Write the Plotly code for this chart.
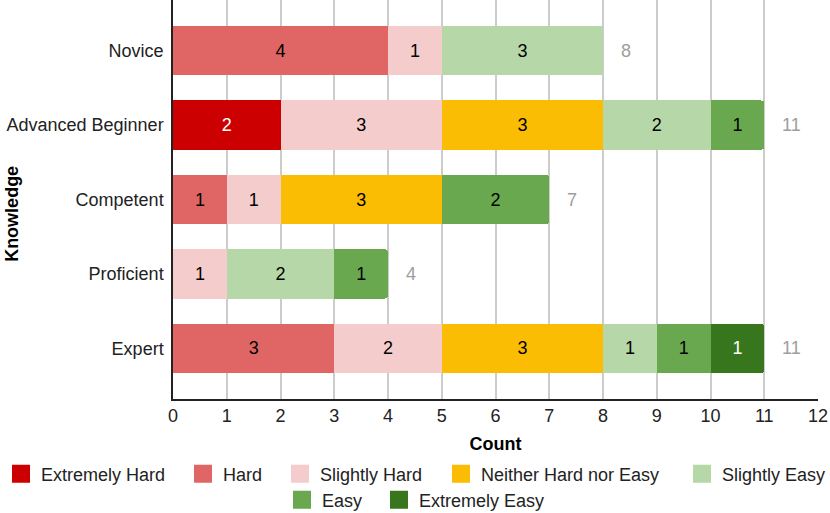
import plotly.graph_objects as go

# ----------------------------------------
# Data
# ----------------------------------------
levels = ['Novice', 'Advanced Beginner', 'Competent', 'Proficient', 'Expert']

difficulty = ['Extremely Hard', 'Hard', 'Slightly Hard', 'Neither Hard nor Easy',
              'Slightly Easy', 'Easy', 'Extremely Easy']

extremely_hard = [0, 2, 0, 0, 0]
hard = [4, 0, 1, 0, 3]
slightly_hard = [1, 3, 1, 1, 2]
neither = [0, 3, 3, 0, 3]
slightly_easy = [3, 2, 0, 2, 1]
easy = [0, 1, 2, 1, 1]
extremely_easy = [0, 0, 0, 0, 1]

series = [extremely_hard, hard, slightly_hard, neither, slightly_easy, easy, extremely_easy]
colors = ['#cc0000', '#e06666', '#f4cccc', '#fbbc04', '#b6d7a8', '#6aa84f', '#38761d']
text_colors = ['white', 'black', 'black', 'black', 'black', 'black', 'white']

totals = [sum(vals) for vals in zip(*series)]

FONT = 'Liberation Sans, Arial, sans-serif'
FS = 18

# legend layout: one legend box per entry so the two centred rows keep
# the same spacing as the original (left edge in px, row)
PLOT_L, PLOT_W = 173, 645
legend_left_px = [1, 183, 280, 441, 682, 282, 379]
legend_row_y = [-0.188] * 5 + [-0.253] * 2

fig = go.Figure()

for name, vals, col, tcol in zip(difficulty, series, colors, text_colors):
    fig.add_trace(go.Bar(
        y=levels,
        x=vals,
        orientation='h',
        name=name,
        marker=dict(color=col, line=dict(width=0)),
        text=[str(v) if v else '' for v in vals],
        textposition='inside',
        insidetextanchor='middle',
        textangle=0,
        textfont=dict(color=tcol, size=FS, family=FONT),
        showlegend=False,
        hoverinfo='x+name',
    ))

legend_boxes = {}
for i, (name, col) in enumerate(zip(difficulty, colors)):
    key = 'legend' if i == 0 else f'legend{i + 1}'
    fig.add_trace(go.Scatter(
        x=[None], y=[None],
        mode='markers',
        name=name,
        marker=dict(symbol='square', size=16, color=col, line=dict(width=2, color=col)),
        legend=key,
        hoverinfo='skip',
    ))
    legend_boxes[key] = dict(
        orientation='h',
        x=(legend_left_px[i] - PLOT_L) / PLOT_W, xanchor='left',
        y=legend_row_y[i], yanchor='middle',
        font=dict(size=FS, family=FONT, color='#222222'),
        bgcolor='rgba(0,0,0,0)',
        itemwidth=30,
    )

# totals to the right of each bar
for lvl, tot in zip(levels, totals):
    fig.add_annotation(
        x=tot, y=lvl, xref='x', yref='y',
        text=str(tot), showarrow=False,
        xanchor='left', xshift=16,
        font=dict(color='#9e9e9e', size=FS, family=FONT),
    )

# y axis title placed by hand (it sits over the short tick labels)
fig.add_annotation(
    x=-0.2496, y=0.464, xref='paper', yref='paper',
    xanchor='center', yanchor='middle',
    text='<b>Knowledge</b>', textangle=-90, showarrow=False,
    font=dict(size=FS, family=FONT, color='#000000'),
)

fig.update_layout(
    width=830, height=513,
    barmode='stack',
    bargap=0.34,
    barcornerradius=3,
    uniformtext=dict(minsize=FS, mode='show'),
    plot_bgcolor='white',
    paper_bgcolor='white',
    font=dict(family=FONT, size=FS, color='#222222'),
    margin=dict(l=PLOT_L, r=12, t=0, b=114, autoexpand=False),
    xaxis=dict(
        range=[0, 12],
        dtick=1,
        showgrid=True,
        gridcolor='#cccccc',
        gridwidth=1.5,
        zeroline=False,
        showline=True,
        linecolor='#222222',
        linewidth=1.5,
        ticks='',
        title=dict(text='<b>Count</b>', font=dict(size=FS, color='#000000'), standoff=12),
    ),
    yaxis=dict(
        categoryorder='array',
        categoryarray=levels,
        range=[4.68, -0.68],
        showgrid=False,
        showline=True,
        linecolor='#222222',
        linewidth=1.5,
        ticks='outside', ticklen=4, tickcolor='rgba(0,0,0,0)',
    ),
    **legend_boxes,
)

# drop the default page margin so the figure sits at the window's corner
fig.write_html("out.html", config={'displayModeBar': False},
               post_script="document.body.style.margin='0';")
